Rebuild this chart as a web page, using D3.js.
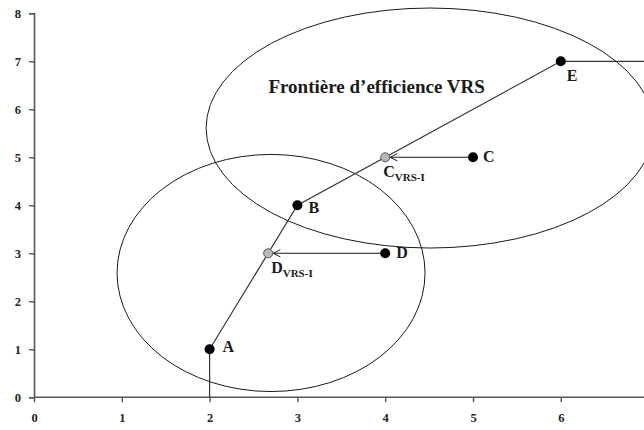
<!DOCTYPE html>
<html><head><meta charset="utf-8">
<script src="https://cdn.jsdelivr.net/npm/d3@7"></script>
<style>body{margin:0;background:#fff}</style>
</head><body><svg id="c" width="644" height="430"></svg>
<script>
// ---- data ----
const xTicks = [0, 1, 2, 3, 4, 5, 6, 7];
const yTicks = [0, 1, 2, 3, 4, 5, 6, 7, 8];
const pointNames = ["A", "B", "C", "D", "E"];
const pointX = [2, 3, 5, 4, 6];
const pointY = [1, 4, 5, 3, 7];
const projNames = ["C", "D"];
const projSub = ["VRS-I", "VRS-I"];
const projX = [4, 2.667];
const projY = [5, 3];
const frontierX = [2, 2, 3, 6, 7.2];
const frontierY = [0, 1, 4, 7, 7];
const ellipseCx = [2.70, 4.51];
const ellipseCy = [2.59, 5.61];
const ellipseRx = [1.754, 2.55];
const ellipseRy = [2.47, 2.5];
const title = "Frontière d’efficience VRS";
const titleX = 2.67, titleY = 6.33;

// ---- scales ----
const svg = d3.select("#c");
const x = d3.scaleLinear().domain([0, 7]).range([34, 648.6]);
const y = d3.scaleLinear().domain([0, 8]).range([397.3, 13.3]);
const serif = "'Liberation Serif','Times New Roman',serif";
const ink = "#1a1a1a";

// ellipses
const ell = ellipseCx.map((c, i) => ({cx: c, cy: ellipseCy[i], rx: ellipseRx[i], ry: ellipseRy[i]}));
svg.selectAll("ellipse.e").data(ell).join("ellipse")
  .attr("cx", d => x(d.cx)).attr("cy", d => y(d.cy))
  .attr("rx", d => x(d.rx) - x(0)).attr("ry", d => y(0) - y(d.ry))
  .attr("fill", "none").attr("stroke", ink).attr("stroke-width", 1);

// axes
const xAxis = svg.append("g").attr("transform", `translate(0,${y(0)})`)
  .call(d3.axisBottom(x).tickValues(xTicks).tickSize(5).tickPadding(11).tickFormat(d3.format("d")));
const yAxis = svg.append("g").attr("transform", `translate(${x(0)},0)`)
  .call(d3.axisLeft(y).tickValues(yTicks).tickSize(5).tickPadding(8).tickFormat(d3.format("d")));
[xAxis, yAxis].forEach(g => {
  g.select(".domain").attr("stroke", "#555").attr("stroke-width", 1.6);
  g.selectAll(".tick line").attr("stroke", "#555").attr("stroke-width", 1.4);
  g.selectAll(".tick text").attr("font-family", serif).attr("font-weight", "bold")
    .attr("font-size", 12.5).attr("fill", "#222");
});
xAxis.select(".domain").attr("d", `M${x(0)},0H${x(7.2)}`);

// frontier line
const fr = frontierX.map((v, i) => [v, frontierY[i]]);
svg.append("path").attr("d", d3.line().x(d => x(d[0])).y(d => y(d[1]))(fr))
  .attr("fill", "none").attr("stroke", "#333").attr("stroke-width", 1.2);

// arrow marker
svg.append("defs").append("marker").attr("id", "arr")
  .attr("viewBox", "0 0 10 10").attr("refX", 9).attr("refY", 5)
  .attr("markerWidth", 9).attr("markerHeight", 9).attr("markerUnits", "userSpaceOnUse")
  .attr("orient", "auto")
  .append("path").attr("d", "M1,1L9,5L1,9").attr("fill", "none").attr("stroke", ink).attr("stroke-width", 1.1);

// projection arrows
projNames.forEach((n, i) => {
  const j = pointNames.indexOf(n);
  svg.append("line")
    .attr("x1", x(pointX[j])).attr("y1", y(pointY[j]))
    .attr("x2", x(projX[i]) + 5).attr("y2", y(projY[i]))
    .attr("stroke", ink).attr("stroke-width", 1.1).attr("marker-end", "url(#arr)");
});

// points
svg.selectAll("circle.p").data(pointNames).join("circle")
  .attr("cx", (d, i) => x(pointX[i])).attr("cy", (d, i) => y(pointY[i]))
  .attr("r", 5).attr("fill", "#000");
svg.selectAll("circle.q").data(projNames).join("circle")
  .attr("cx", (d, i) => x(projX[i])).attr("cy", (d, i) => y(projY[i]))
  .attr("r", 4.5).attr("fill", "#b8b8b8").attr("stroke", "#555").attr("stroke-width", 1);

// point labels
const lblOff = {A: [13, 3], B: [11, 8], C: [10, 5], D: [11, 5], E: [6, 20]};
svg.selectAll("text.pl").data(pointNames).join("text")
  .attr("x", (d, i) => x(pointX[i]) + lblOff[d][0])
  .attr("y", (d, i) => y(pointY[i]) + lblOff[d][1])
  .attr("font-family", serif).attr("font-weight", "bold").attr("font-size", 16).attr("fill", ink)
  .text(d => d);

// projection labels
const projOff = [[-2, 20], [3, 20]];
projNames.forEach((n, i) => {
  const t = svg.append("text")
    .attr("x", x(projX[i]) + projOff[i][0]).attr("y", y(projY[i]) + projOff[i][1])
    .attr("font-family", serif).attr("font-weight", "bold").attr("font-size", 16).attr("fill", ink);
  t.append("tspan").text(n);
  t.append("tspan").attr("font-size", 11).attr("dy", 3.5).text(projSub[i]);
});

// title
svg.append("text").attr("x", x(titleX)).attr("y", y(titleY))
  .attr("font-family", serif).attr("font-weight", "bold").attr("font-size", 19).attr("fill", ink)
  .text(title);
</script></body></html>
